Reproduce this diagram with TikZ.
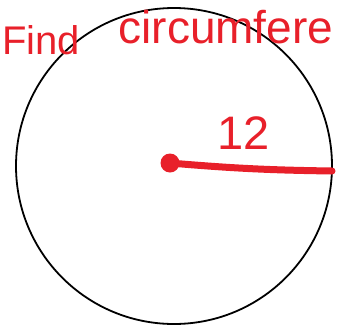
\documentclass[tikz,border=0pt]{standalone}
\usepackage{fontspec}
\setmainfont{Liberation Sans}
\definecolor{pen}{HTML}{E8202A}
\begin{document}
\begin{tikzpicture}[x=1pt,y=-1pt,pen/.style={text=pen,font=\fontsize{46}{46}\selectfont}]
\useasboundingbox (0,0) rectangle (337,327);
\clip (0,0) rectangle (337,327);
\node[draw,circle,line width=1.8pt,minimum size=316pt,inner sep=0pt] (rim) at (174,166) {};
\node[circle,fill=pen,minimum size=19pt,inner sep=0pt] (O) at (170,163) {};
\coordinate (R) at (332,171);
\draw[draw=pen,line width=7pt,line cap=round] (O.center) to[bend right=2] (R);
\node[pen,font=\fontsize{47}{47}\selectfont] (r) at (244,133) {12};
\node[pen,font=\fontsize{40}{40}\selectfont,anchor=base west,inner sep=0pt] (find) at (2,54) {Find};
\node[pen,anchor=base west] (circ) at (115,43) {circumfere};
\end{tikzpicture}
\end{document}
